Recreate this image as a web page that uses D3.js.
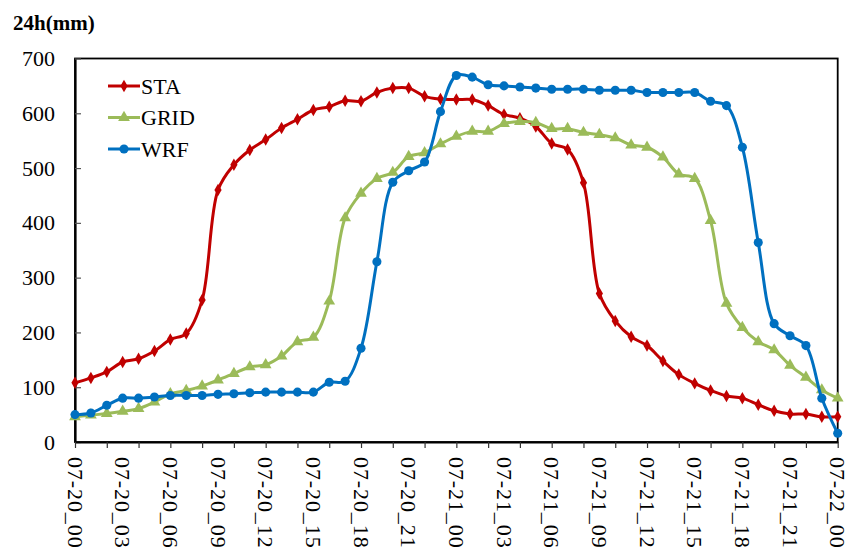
<!DOCTYPE html>
<html>
<head>
<meta charset="utf-8">
<script src="https://cdn.jsdelivr.net/npm/d3@7"></script>
<style>
  body { margin: 0; background: #fff; }
  svg { display: block; }
</style>
</head>
<body>
<div id="wrapper"></div>
<script>
'use strict';

const fontFamily = 'Liberation Serif, Times New Roman, serif';

// hourly values 07-20_00 .. 07-22_00 (49 points)
const staValues = [
  108, 117, 128, 146, 152, 166, 187, 198, 259, 460,
  506, 533, 552, 573, 589, 606, 612, 623, 622, 638,
  646, 646, 631, 626, 625, 625, 614, 598, 591, 576,
  545, 534, 473, 271, 221, 192, 176, 148, 123, 107,
  94, 84, 80, 68, 57, 51, 51, 46, 46
];
const gridValues = [
  46, 49, 52, 56, 61, 73, 88, 94, 102, 113,
  125, 137, 141, 157, 183, 191, 257, 409, 454, 481,
  492, 521, 528, 544, 558, 567, 567, 581, 585, 583,
  572, 572, 565, 561, 555, 542, 538, 520, 489, 481,
  404, 253, 209, 183, 168, 140, 118, 95, 80
];
const wrfValues = [
  50, 53, 67, 80, 80, 82, 85, 85, 85, 87,
  88, 90, 91, 91, 91, 91, 109, 111, 171, 329,
  474, 495, 511, 603, 669, 666, 652, 650, 648, 646,
  644, 644, 644, 642, 642, 642, 638, 638, 638, 638,
  622, 614, 538, 364, 216, 194, 176, 80, 16
];
const tickLabels = [
  '07-20_00', '07-20_03', '07-20_06', '07-20_09', '07-20_12', '07-20_15',
  '07-20_18', '07-20_21', '07-21_00', '07-21_03', '07-21_06', '07-21_09',
  '07-21_12', '07-21_15', '07-21_18', '07-21_21', '07-22_00'
];
const yTicks = [0, 100, 200, 300, 400, 500, 600, 700];
const seriesNames = ['STA', 'GRID', 'WRF'];

const series = [
  { name: seriesNames[0], values: staValues, color: '#C00000', symbol: d3.symbolDiamond, size: 45 },
  { name: seriesNames[1], values: gridValues, color: '#9BBB59', symbol: d3.symbolTriangle, size: 60 },
  { name: seriesNames[2], values: wrfValues, color: '#0070C0', symbol: d3.symbolCircle, size: 65 },
];

const dimensions = {
  width: 846,
  height: 552,
  margin: { top: 58.5, right: 8, bottom: 110, left: 75 },
};
dimensions.boundedWidth = dimensions.width - dimensions.margin.left - dimensions.margin.right;
dimensions.boundedHeight = dimensions.height - dimensions.margin.top - dimensions.margin.bottom;

const xScale = d3.scaleLinear()
  .domain([0, staValues.length - 1])
  .range([0, dimensions.boundedWidth - 0.3]);

const yScale = d3.scaleLinear()
  .domain([0, 700])
  .range([dimensions.boundedHeight, 0]);

const svg = d3.select('#wrapper')
  .append('svg')
  .attr('width', dimensions.width)
  .attr('height', dimensions.height)
  .style('font-family', fontFamily);

// title
svg.append('text')
  .attr('x', 13)
  .attr('y', 30)
  .attr('font-size', 21)
  .attr('font-weight', 'bold')
  .attr('fill', '#000')
  .text('24h(mm)');

const bounds = svg.append('g')
  .attr('transform', `translate(${dimensions.margin.left}, ${dimensions.margin.top})`);

// frame
bounds.append('rect')
  .attr('width', xScale(48))
  .attr('height', dimensions.boundedHeight)
  .attr('fill', 'none')
  .attr('stroke', '#000')
  .attr('stroke-width', 1.8);

// y axis - inward ticks
const yAxis = bounds.append('g')
  .call(d3.axisLeft(yScale).tickValues(yTicks).tickSizeInner(-6).tickSizeOuter(0).tickPadding(20))
  .attr('font-family', null)
  .style('font-family', fontFamily);
yAxis.select('.domain').attr('stroke-width', 2.2);
yAxis.selectAll('.tick line').attr('stroke', '#555').attr('stroke-width', 1.2);
yAxis.selectAll('.tick text')
  .attr('font-size', 22)
  .attr('fill', '#000');

// x axis - ticks every 2 hours, labels every 3 hours
const xAxis = bounds.append('g')
  .attr('transform', `translate(0, ${dimensions.boundedHeight})`)
  .call(d3.axisBottom(xScale).tickValues(d3.range(0, 49, 2)).tickSize(6).tickSizeOuter(0).tickFormat(''))
  .attr('font-family', null)
  .style('font-family', fontFamily);
xAxis.select('.domain').attr('stroke-width', 2.2);
xAxis.selectAll('.tick line').attr('stroke', '#333').attr('stroke-width', 1.2);

xAxis.selectAll('.xlabel')
  .data(tickLabels)
  .join('text')
  .attr('class', 'xlabel')
  .attr('transform', (d, i) => `translate(${xScale(i * 3)}, 15) rotate(90)`)
  .attr('text-anchor', 'start')
  .attr('dominant-baseline', 'central')
  .attr('font-size', 22)
  .attr('letter-spacing', 0.9)
  .attr('fill', '#000')
  .text(d => d);

// series
const lineGenerator = d3.line()
  .x((d, i) => xScale(i))
  .y(d => yScale(d))
  .curve(d3.curveCatmullRom.alpha(0.5));

series.forEach(s => {
  const g = bounds.append('g');
  g.append('path')
    .attr('d', lineGenerator(s.values))
    .attr('fill', 'none')
    .attr('stroke', s.color)
    .attr('stroke-width', 3);
  g.selectAll('path.marker')
    .data(s.values)
    .join('path')
    .attr('class', 'marker')
    .attr('d', d3.symbol().type(s.symbol).size(s.size))
    .attr('transform', (d, i) => `translate(${xScale(i)}, ${yScale(d)})`)
    .attr('fill', s.color);
});

// legend
const legend = bounds.append('g')
  .attr('transform', 'translate(33, 27.5)');
const legendItems = legend.selectAll('g')
  .data(series)
  .join('g')
  .attr('transform', (d, i) => `translate(0, ${i * 31.5})`);
legendItems.append('line')
  .attr('x1', 0).attr('x2', 32)
  .attr('stroke', d => d.color)
  .attr('stroke-width', 3);
legendItems.append('path')
  .attr('d', d => d3.symbol().type(d.symbol).size(d.size)())
  .attr('transform', 'translate(16, 0)')
  .attr('fill', d => d.color);
legendItems.append('text')
  .attr('x', 33)
  .attr('dominant-baseline', 'central')
  .attr('font-size', 22)
  .attr('fill', '#000')
  .text(d => d.name);
</script>
</body>
</html>
